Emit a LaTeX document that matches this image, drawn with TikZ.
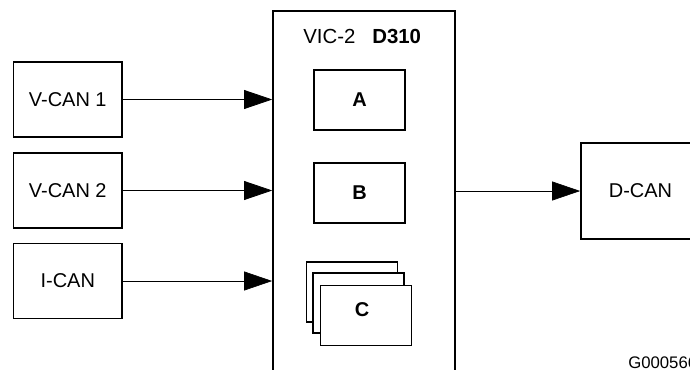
\documentclass[tikz,border=0pt]{standalone}
\usepackage{fontspec}
\setmainfont{Liberation Sans}
\usetikzlibrary{arrows.meta}

\begin{document}
\begin{tikzpicture}[x=0.025cm, y=-0.025cm, line join=miter,
    bus/.style={draw, line width=1.1pt, minimum width=2.71cm, minimum height=1.875cm,
        inner sep=0pt, font=\fontsize{14.2}{16}\selectfont},
    unit/.style={draw, line width=1.1pt, fill=white, minimum width=2.275cm, minimum height=1.5cm,
        inner sep=0pt, font=\fontsize{14.2}{16}\selectfont\bfseries},
    link/.style={-{Triangle[length=20pt, width=13.5pt]}, line width=0.5pt}]
    % --- Page frame (reference margins) ---
    \useasboundingbox (0,0) rectangle (690,369);
    \clip (0,0) rectangle (690,369);

    % --- Input buses (left column) ---
    \node[bus] (vcan1) at (67.75, 99.5) {V-CAN 1};
    \node[bus] (vcan2) at (67.75, 190.5) {V-CAN 2};
    \node[bus] (ican)  at (67.75, 281) {I-CAN};

    % --- Control module VIC-2 (runs past the lower edge) ---
    \node[draw, line width=1.1pt, minimum width=4.55cm, minimum height=10cm, inner sep=0pt,
        anchor=north] (vic) at (364, 10) {};
    \node[anchor=base west, inner sep=0pt, font=\fontsize{14.5}{16}\selectfont]
        (vicname) at (303, 43.5) {VIC-2};
    \node[anchor=base west, inner sep=0pt, font=\fontsize{14.5}{16}\selectfont\bfseries]
        (vicref) at (372, 43.5) {D310};

    % --- Internal units ---
    \node[unit] (unitA) at (359.5, 100) {A};
    \node[unit] (unitB) at (359.5, 193) {B};
    \node[unit] (unitCback) at (352, 292) {};
    \node[unit] (unitCmid)  at (358.5, 303) {};
    \node[unit] (unitC)     at (366, 315.7) {};
    \node[font=\fontsize{14.2}{16}\selectfont\bfseries] (labelC) at (362, 310) {C};

    % --- Output bus ---
    \node[bus, minimum width=2.975cm, minimum height=2.41cm] (dcan) at (640.5, 191) {D-CAN};

    % --- Connectors ---
    \draw[link] (vcan1.east) -- (vcan1.east -| vic.west);
    \draw[link] (vcan2.east) -- (vcan2.east -| vic.west);
    \draw[link] (ican.east)  -- (ican.east -| vic.west);
    \draw[link] (dcan.west -| vic.east) -- (dcan.west);

    % --- Figure code ---
    \node[anchor=base west, inner sep=0pt, font=\fontsize{11.9}{14}\selectfont]
        (figcode) at (628, 368) {G000566};

\end{tikzpicture}
\end{document}
